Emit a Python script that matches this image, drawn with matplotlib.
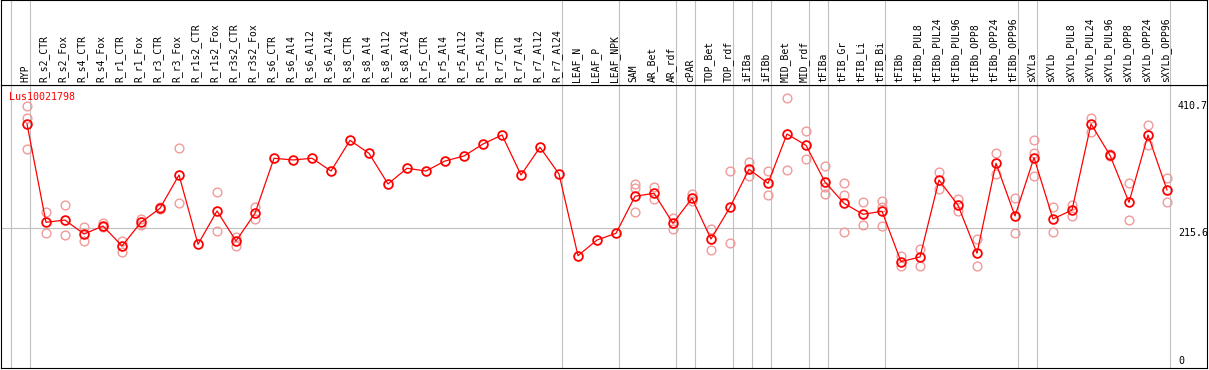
import matplotlib
matplotlib.use("Agg")
import matplotlib.pyplot as plt
import numpy as np

# ── data ─────────────────────────────────────────

categories = [
    "HYP",
    "R_s2_CTR", "R_s2_Fox", "R_s4_CTR", "R_s4_Fox", "R_r1_CTR", "R_r1_Fox",
    "R_r3_CTR", "R_r3_Fox", "R_r1s2_CTR", "R_r1s2_Fox", "R_r3s2_CTR", "R_r3s2_Fox",
    "R_s6_CTR", "R_s6_Al4", "R_s6_Al12", "R_s6_Al24",
    "R_s8_CTR", "R_s8_Al4", "R_s8_Al12", "R_s8_Al24",
    "R_r5_CTR", "R_r5_Al4", "R_r5_Al12", "R_r5_Al24",
    "R_r7_CTR", "R_r7_Al4", "R_r7_Al12", "R_r7_Al24",
    "LEAF_N", "LEAF_P", "LEAF_NPK",
    "SAM", "AR_Bet", "AR_rdf",
    "cPAR",
    "TOP_Bet", "TOP_rdf",
    "iFIBa",
    "iFIBb",
    "MID_Bet", "MID_rdf",
    "tFIBa",
    "tFIB_Gr", "tFIB_Li", "tFIB_Bi",
    "tFIBb", "tFIBb_PUL8", "tFIBb_PUL24", "tFIBb_PUL96",
    "tFIBb_OPP8", "tFIBb_OPP24", "tFIBb_OPP96",
    "sXYLa",
    "sXYLb", "sXYLb_PUL8", "sXYLb_PUL24", "sXYLb_PUL96",
    "sXYLb_OPP8", "sXYLb_OPP24", "sXYLb_OPP96",
]

# number of samples in each group, separated by grey lines
group_sizes = [1, 28, 3, 3, 1, 2, 1, 1, 2, 1, 3, 7, 1, 7]

mean_expr = [
    375.0,
    223.9, 227.4, 205.9, 218.2, 187.5, 223.9,
    245.4, 296.6, 190.1, 241.3, 195.2, 237.7,
    322.3, 319.7, 322.3, 302.7,
    349.9, 329.9, 282.8, 306.9,
    302.7, 318.1, 325.8, 344.2,
    358.1, 296.6, 339.2, 298.1,
    172.6, 196.7, 207.0,
    263.9, 268.5, 222.4,
    260.8,
    198.2, 247.0,
    305.4,
    283.8,
    359.6, 342.2,
    285.8,
    253.1, 236.2, 240.8,
    163.4, 170.6, 288.9, 250.0,
    176.3, 314.6, 233.6,
    323.2,
    229.0, 242.8, 375.0, 326.9,
    254.6, 358.1, 273.6,
]

# replicate values (index into categories -> values)
replicates = {
    0: [402.6, 384.2, 336.1],
    1: [239.7, 207.0],
    2: [250.0, 203.9],
    3: [216.2, 195.6],
    4: [222.4, 216.2],
    5: [195.6, 178.3],
    6: [228.5, 220.2],
    7: [247.0, 243.9],
    8: [337.6, 253.1],
    10: [270.0, 210.1],
    11: [201.8, 188.0],
    12: [247.0, 229.4],
    32: [282.3, 276.2, 239.7],
    33: [277.7, 260.2],
    34: [231.0, 214.1],
    35: [266.9, 256.6],
    36: [213.2, 180.9],
    37: [302.3, 191.6],
    38: [316.6, 295.5],
    39: [302.3, 265.4],
    40: [414.5, 303.8],
    41: [363.8, 320.7],
    42: [310.0, 278.6, 266.9],
    43: [283.8, 265.4, 208.5],
    44: [254.6, 219.3],
    45: [256.6, 247.9, 217.8],
    46: [172.6, 156.8],
    47: [182.9, 157.2],
    48: [301.2, 275.6],
    49: [259.3, 241.7],
    50: [198.7, 156.8],
    51: [329.9, 298.1],
    52: [260.8, 207.0],
    53: [349.9, 330.9, 294.6],
    54: [247.4, 208.5],
    55: [251.0, 233.6],
    56: [384.2, 363.1],
    57: [328.4, 325.3],
    58: [284.3, 227.4],
    59: [373.4, 342.7],
    60: [292.0, 255.1],
}

gene_name = "Lus10021798"
y_ticks = [410.7, 215.6, 0]

# ── layout ───────────────────────────────────────

W, H = 1209, 370
fig = plt.figure(figsize=(W / 100, H / 100), dpi=100)

x0_px, x1_px = 1, 1207
top_px, split_px, bot_px = 0, 85, 368
step_px, first_px = 19, 27

xlim = ((x0_px - first_px) / step_px, (x1_px - first_px) / step_px)
ymax = 434.9

ax = fig.add_axes([x0_px / W, (H - bot_px) / H, (x1_px - x0_px) / W, (bot_px - split_px) / H])
hd = fig.add_axes([x0_px / W, (H - split_px) / H, (x1_px - x0_px) / W, (split_px - top_px) / H])

grey = "#c0c0c0"
light = "#f09a9a"
mono = "DejaVu Sans Mono"

for a in (ax, hd):
    a.set_xlim(*xlim)
    a.set_xticks([])
    a.set_yticks([])
    for s in a.spines.values():
        s.set_color("black")
        s.set_linewidth(0.8)
ax.set_ylim(0, ymax)
hd.set_ylim(0, 1)

# group separators
bounds = np.concatenate([[-1], np.cumsum(group_sizes) - 1]) + 3 / step_px
for b in bounds:
    ax.axvline(b, color=grey, lw=0.8, zorder=1)
    hd.axvline(b, color=grey, lw=0.8, zorder=1)

ax.hlines(y_ticks[1], xlim[0], bounds[-1], color=grey, lw=0.8, zorder=1)

x = np.arange(len(categories))

# replicates
for i, vals in replicates.items():
    ax.plot([i] * len(vals), vals, "o", ms=6.3, mfc="none", mec=light, mew=1.0, zorder=2)

# mean line
ax.plot(x, mean_expr, "-", color="red", lw=0.9, zorder=3)
ax.plot(x, mean_expr, "o", ms=6.3, mfc="none", mec="red", mew=1.3, zorder=4)

# category labels
for i, name in enumerate(categories):
    hd.text(i - 0.1, 0.03, name, rotation=90, ha="center", va="bottom",
            fontsize=7, family=mono, color="black")

# gene name
ax.text(8 / W * 0 + (9 - first_px) / step_px, 1 - 12 / (bot_px - split_px), gene_name,
        transform=ax.get_xaxis_transform(), ha="left", va="center",
        fontsize=7.2, family=mono, color="red")

# right value labels
lab_x = (1178 - first_px) / step_px
ax.text(lab_x, y_ticks[0], "410.7", ha="left", va="top", fontsize=7.2, family=mono)
ax.text(lab_x, y_ticks[1], "215.6", ha="left", va="top", fontsize=7.2, family=mono)
ax.text(lab_x, y_ticks[2] + 3, "0", ha="left", va="bottom", fontsize=7.2, family=mono)

fig.savefig("out.png", dpi=100)
